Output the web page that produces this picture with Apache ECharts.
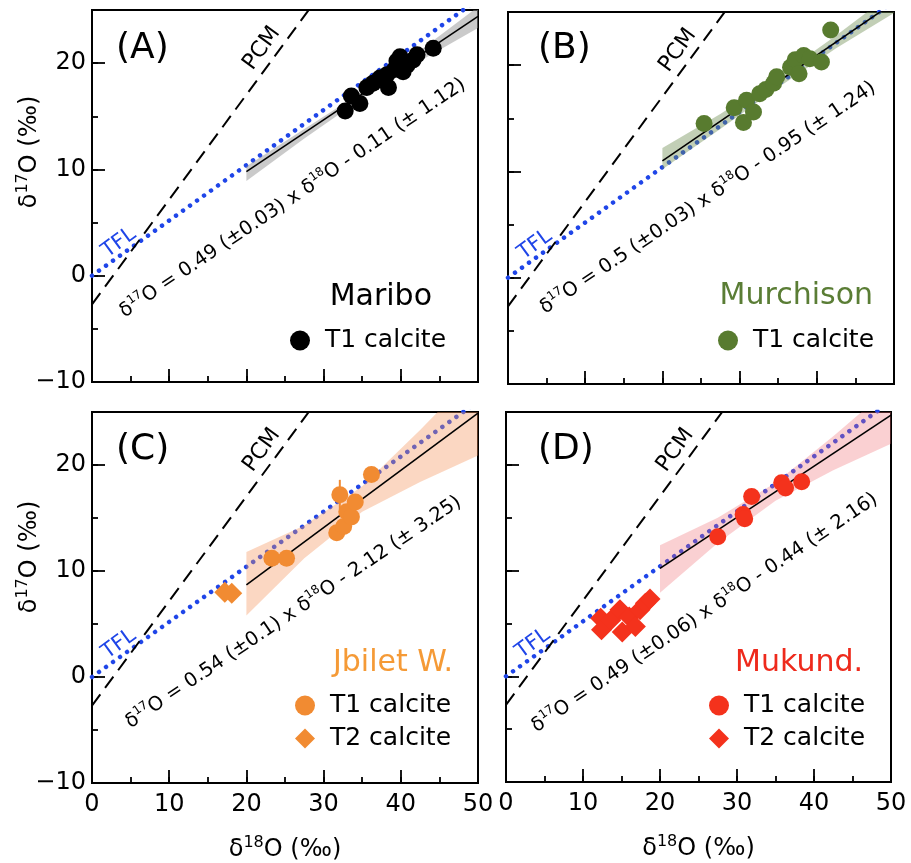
<!DOCTYPE html>
<html>
<head>
<meta charset="utf-8">
<script src="https://cdn.jsdelivr.net/npm/echarts@6.0.0/dist/echarts.min.js"></script>
<style>
  html, body { margin: 0; padding: 0; background: #fff; }
  #chart { width: 911px; height: 863px; }
</style>
</head>
<body>
<div id="chart"></div>
<script>
var FONT = 'DejaVu Sans'

// axis ranges (permil)
var xMin = 0, xMax = 50
var yMin = -10, yMax = 25

var panelLetters = ['(A)', '(B)', '(C)', '(D)']
var sampleNames = ['Maribo', 'Murchison', 'Jbilet W.', 'Mukund.']
var slopeLabels = ['0.49 (±0.03)', '0.5 (±0.03)', '0.54 (±0.1)', '0.49 (±0.06)']
var interceptLabels = ['0.11 (± 1.12)', '0.95 (± 1.24)', '2.12 (± 3.25)', '0.44 (± 2.16)']

// reference lines
var tflLine = [[0, 0], [50, 26]]
var pcmLine = [[0, -2.7], [30, 26.9]]

// regression lines as drawn
var fitA = [[20, 9.8], [50, 24.4]]
var fitB = [[20, 11.0], [50, 25.9]]
var fitC = [[20, 8.7], [50, 24.9]]
var fitD = [[20, 10.2], [50, 24.7]]

// confidence bands
var bandX = [20, 27.5, 35, 42.5, 50]
var bandLowA = [8.9, 12.9, 16.7, 20.2, 23.3]
var bandHighA = [10.3, 13.8, 17.3, 21.2, 25.3]
var bandLowB = [10.2, 14.0, 17.9, 21.6, 24.9]
var bandHighB = [12.2, 15.4, 18.9, 22.8, 26.9]
var bandLowC = [5.8, 11.2, 15.6, 18.4, 20.9]
var bandHighC = [11.8, 14.3, 18.0, 23.3, 28.9]
var bandLowD = [7.9, 12.6, 16.6, 19.5, 22.0]
var bandHighD = [12.4, 15.0, 18.3, 22.7, 27.4]

// T1 calcite  [d18O, d17O]
var t1A = [[32.8, 15.5], [33.6, 16.9], [34.7, 16.2], [35.6, 17.7], [36.4, 18.1], [37.3, 18.6],
  [38.4, 17.7], [38.2, 18.9], [39.2, 19.4], [39.5, 20.2], [39.9, 20.6], [40.3, 19.2],
  [40.8, 19.8], [41.6, 20.3], [42.1, 20.8], [44.2, 21.4]]
var t1B = [[25.4, 14.5], [29.3, 16.0], [30.5, 14.6], [30.9, 16.7], [31.8, 15.6], [32.6, 17.3],
  [33.4, 17.7], [34.4, 18.3], [34.8, 18.9], [36.6, 19.8], [37.2, 20.5], [37.7, 19.2],
  [38.3, 20.9], [39.1, 20.6], [40.6, 20.3], [41.8, 23.3]]
var t1C = [[23.3, 11.2], [25.2, 11.2], [31.7, 13.6], [32.1, 17.2], [32.6, 14.2], [33.0, 15.6],
  [33.6, 15.1], [34.1, 16.5], [36.2, 19.1]]
var t1D = [[27.5, 13.2], [30.8, 15.3], [31.0, 14.9], [31.9, 17.0], [35.8, 18.3], [36.3, 17.8],
  [38.4, 18.4]]

// T2 calcite
var t2C = [[17.2, 8.0], [18.1, 7.9]]
var t2D = [[12.3, 5.5], [12.4, 4.4], [13.6, 5.3], [14.8, 6.3], [15.1, 4.2], [16.0, 5.6],
  [16.8, 4.7], [17.4, 6.3], [18.1, 6.9], [18.7, 7.3]]

// error bar on one Jbilet W. point
var errC = [[32.1, 15.8], [32.1, 18.6]]

// label anchors (data space)
var eqPos = [[26.0, 7.3], [25.9, 7.5], [26.1, 6.1], [25.8, 6.0]]
var tflLabelPos = [3.5, 3.1]
var pcmLabelPos = [22, 21.4]

var fits = [fitA, fitB, fitC, fitD]
var bandLow = [bandLowA, bandLowB, bandLowC, bandLowD]
var bandHigh = [bandHighA, bandHighB, bandHighC, bandHighD]
var t1 = [t1A, t1B, t1C, t1D]
var t2 = [null, null, t2C, t2D]

var pointColors = ['#000000', '#587b2f', '#f18b32', '#f4321c']
var nameColors = ['#000000', '#5a7d35', '#f59a36', '#ee2a1c']
var bandColors = ['rgba(150,150,150,0.5)', 'rgba(110,140,80,0.42)', 'rgba(244,150,95,0.38)', 'rgba(240,110,115,0.32)']
var tflColor = '#1f45e8'

var grids = [
  { left: 92, top: 10, width: 386, height: 372 },
  { left: 508, top: 12, width: 386, height: 372 },
  { left: 92, top: 412, width: 386, height: 371 },
  { left: 506, top: 412, width: 385, height: 370 }
]
var letterPos = [[116, 31], [538, 31], [116, 432], [538, 432]]
var namePos = [[479, 282], [38, 281], [458, 648], [48, 648]]
var legendPos = [[290, 328], [718, 328], [295, 693], [709, 693]]

var eqRich = {
  t: { fontFamily: FONT, fontSize: 19.5, lineHeight: 24, fill: '#000' },
  s: { fontFamily: FONT, fontSize: 12, lineHeight: 14, verticalAlign: 'top', fill: '#000' }
}
var axisRich = {
  t: { fontFamily: FONT, fontSize: 24, lineHeight: 30, color: '#000' },
  s: { fontFamily: FONT, fontSize: 16, lineHeight: 18, verticalAlign: 'top', color: '#000' }
}

function minus(v) {
  return v < 0 ? '\u2212' + Math.abs(v) : String(v)
}

var xAxes = [], yAxes = [], series = [], titles = [], legends = []

for (let p = 0; p < 4; p++) {
  let bottomRow = p >= 2
  let leftCol = p % 2 === 0
  // major axes (long ticks + labels)
  xAxes.push({
    type: 'value', gridIndex: p, min: xMin, max: xMax, interval: 10, position: 'bottom',
    axisLine: { show: false, onZero: false },
    axisTick: { show: true, inside: true, length: 13, lineStyle: { color: '#000', width: 1.8 } },
    axisLabel: { show: bottomRow, margin: 10, color: '#000', fontFamily: FONT, fontSize: 24 },
    splitLine: { show: false },
    name: bottomRow ? '{t|δ}{s|18}{t|O (‰)}' : '',
    nameLocation: 'middle', nameGap: 52,
    nameTextStyle: { rich: axisRich }
  })
  // minor axes (short ticks)
  xAxes.push({
    type: 'value', gridIndex: p, min: xMin, max: xMax, interval: 5, position: 'bottom',
    axisLine: { show: false, onZero: false },
    axisTick: { show: true, inside: true, length: 6, lineStyle: { color: '#000', width: 1.8 } },
    axisLabel: { show: false }, splitLine: { show: false }
  })
  yAxes.push({
    type: 'value', gridIndex: p, min: yMin, max: yMax, interval: 10, position: 'left',
    axisLine: { show: false, onZero: false },
    axisTick: { show: true, inside: true, length: 13, lineStyle: { color: '#000', width: 1.8 } },
    axisLabel: {
      show: leftCol, margin: 6, color: '#000', fontFamily: FONT, fontSize: 24,
      formatter: function (v) { return v > 20 ? '' : minus(v) }
    },
    splitLine: { show: false }
  })
  yAxes.push({
    type: 'value', gridIndex: p, min: yMin, max: yMax, interval: 5, position: 'left',
    axisLine: { show: false, onZero: false },
    axisTick: { show: true, inside: true, length: 6, lineStyle: { color: '#000', width: 1.8 } },
    axisLabel: { show: false }, splitLine: { show: false }
  })

  let xi = 2 * p, yi = 2 * p
  let tag = ' (' + 'ABCD'[p] + ')'

  // TFL dotted
  series.push({
    type: 'line', xAxisIndex: xi, yAxisIndex: yi, data: tflLine, symbol: 'none', silent: true, z: 2,
    lineStyle: { color: tflColor, width: 4.5, type: [0.01, 8.6], cap: 'round' }
  })
  // confidence band
  series.push({
    type: 'custom', xAxisIndex: xi, yAxisIndex: yi, silent: true, z: 3,
    data: [[bandX[0], bandLow[p][0]]],
    renderItem: function (params, api) {
      var pts = []
      for (var i = 0; i < bandX.length; i++) pts.push(api.coord([bandX[i], bandHigh[p][i]]))
      for (var j = bandX.length - 1; j >= 0; j--) pts.push(api.coord([bandX[j], bandLow[p][j]]))
      var cs = params.coordSys
      return {
        type: 'polygon',
        shape: { points: pts },
        style: { fill: bandColors[p] },
        clipPath: { type: 'rect', shape: { x: cs.x, y: cs.y, width: cs.width, height: cs.height } }
      }
    }
  })
  // PCM dashed
  series.push({
    type: 'line', xAxisIndex: xi, yAxisIndex: yi, data: pcmLine, symbol: 'none', silent: true, z: 4,
    lineStyle: { color: '#000', width: 2, type: [14, 8] }
  })
  // fit line
  series.push({
    type: 'line', xAxisIndex: xi, yAxisIndex: yi, data: fits[p], symbol: 'none', silent: true, z: 4,
    lineStyle: { color: '#000', width: 1.6 }
  })
  if (p === 2) {
    series.push({
      type: 'line', xAxisIndex: xi, yAxisIndex: yi, data: errC, symbol: 'none', silent: true, z: 5,
      lineStyle: { color: pointColors[p], width: 2 }
    })
  }
  series.push({
    name: 'T1 calcite' + tag, type: 'scatter', xAxisIndex: xi, yAxisIndex: yi, data: t1[p],
    symbol: 'circle', symbolSize: 17, z: 6,
    itemStyle: { color: pointColors[p], opacity: 1 }
  })
  let legendData = [{ name: 'T1 calcite' + tag, icon: 'circle' }]
  if (t2[p]) {
    series.push({
      name: 'T2 calcite' + tag, type: 'scatter', xAxisIndex: xi, yAxisIndex: yi, data: t2[p],
      symbol: 'diamond', symbolSize: 21, z: 6,
      itemStyle: { color: pointColors[p], opacity: 1 }
    })
    legendData.push({ name: 'T2 calcite' + tag, icon: 'diamond' })
  }

  titles.push({
    text: panelLetters[p], left: letterPos[p][0], top: letterPos[p][1], padding: 0,
    textStyle: { fontFamily: FONT, fontSize: 36, fontWeight: 'normal', color: '#000' }
  })
  titles.push({
    text: sampleNames[p], right: namePos[p][0], top: namePos[p][1], padding: 0,
    textStyle: { fontFamily: FONT, fontSize: 30, fontWeight: 'normal', color: nameColors[p] }
  })
  legends.push({
    orient: 'vertical', left: legendPos[p][0], top: legendPos[p][1], padding: 0,
    itemWidth: 20, itemHeight: 20, itemGap: 8, selectedMode: false,
    data: legendData,
    formatter: function (name) { return name.replace(/ \(.\)$/, '') },
    textStyle: { fontFamily: FONT, fontSize: 25, color: '#000', padding: [0, 0, 0, 10] }
  })
}

var yTitle = '{t|δ}{s|17}{t|O (‰)}'
var graphics = [
  { type: 'text', x: 30, y: 152, rotation: Math.PI / 2, style: { text: yTitle, rich: axisRich, align: 'center', verticalAlign: 'middle' } },
  { type: 'text', x: 30, y: 557, rotation: Math.PI / 2, style: { text: yTitle, rich: axisRich, align: 'center', verticalAlign: 'middle' } }
]

var chart = echarts.init(document.getElementById('chart'))
chart.setOption({
  animation: false,
  backgroundColor: '#fff',
  title: titles,
  legend: legends,
  grid: grids.map(function (g) {
    return {
      left: g.left, top: g.top, width: g.width, height: g.height,
      show: true, borderColor: '#000', borderWidth: 2, backgroundColor: 'transparent',
      containLabel: false, outerBoundsMode: 'none'
    }
  }),
  xAxis: xAxes,
  yAxis: yAxes,
  series: series
})

// rotated annotations placed through the axes' own scales
for (let p = 0; p < 4; p++) {
  let eq = chart.convertToPixel({ gridIndex: p }, eqPos[p])
  let tf = chart.convertToPixel({ gridIndex: p }, tflLabelPos)
  let pc = chart.convertToPixel({ gridIndex: p }, pcmLabelPos)
  graphics.push({
    type: 'text', x: eq[0], y: eq[1], rotation: 34 * Math.PI / 180, z: 100,
    style: {
      text: '{t|δ}{s|17}{t|O = ' + slopeLabels[p] + ' x δ}{s|18}{t|O - ' + interceptLabels[p] + '}',
      rich: eqRich, align: 'center', verticalAlign: 'middle'
    }
  })
  graphics.push({
    type: 'text', x: tf[0], y: tf[1], rotation: 36 * Math.PI / 180, z: 100,
    style: { text: 'TFL', fill: tflColor, font: '21px "DejaVu Sans"', align: 'center', verticalAlign: 'middle' }
  })
  graphics.push({
    type: 'text', x: pc[0], y: pc[1], rotation: 54 * Math.PI / 180, z: 100,
    style: { text: 'PCM', fill: '#000', font: '22px "DejaVu Sans"', align: 'center', verticalAlign: 'middle' }
  })
}
chart.setOption({ graphic: graphics })
</script>
</body>
</html>
